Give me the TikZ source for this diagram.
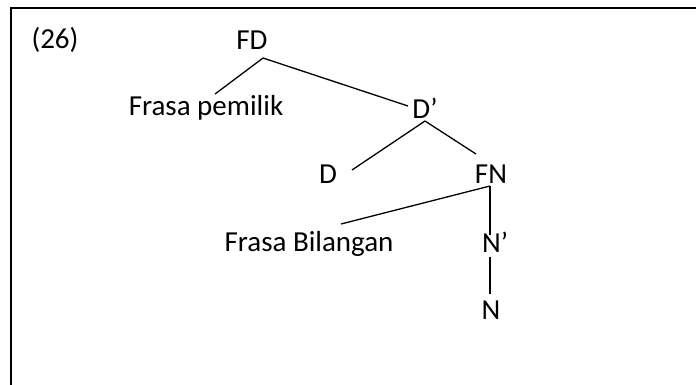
\documentclass[tikz,border=0pt]{standalone}
\usepackage{fontspec}
\setmainfont{Carlito}
\begin{document}
\begin{tikzpicture}[x=0.5pt,y=-0.5pt,
  lbl/.style={inner sep=0pt,font=\fontsize{14.5}{17}\selectfont},
  branch/.style={line width=0.65pt,black},
  frame/.style={line width=1.1pt,black}]
\useasboundingbox (0,0) rectangle (696,385);
% open frame: top and left edges only
\draw[frame] (696,8) -- (11,8) -- (11,385);
% labels
\node[lbl] (num) at (55,40) {(26)};
\node[lbl] (FD) at (252,40) {FD};
\node[lbl] (FP) at (206,108) {Frasa pemilik};
\node[lbl] (Dbar) at (425,108) {D’};
\node[lbl] (D) at (328,174) {D};
\node[lbl] (FN) at (491,174) {FN};
\node[lbl] (FB) at (309,244) {Frasa Bilangan};
\node[lbl] (Nbar) at (495,242) {N’};
\node[lbl] (N) at (491,310) {N};
% attachment points of the branches
\coordinate (FD-b) at (263,58);
\coordinate (FP-t) at (215,94);
\coordinate (Dbar-t) at (408,106);
\coordinate (Dbar-b) at (425,121);
\coordinate (D-t) at (352,170);
\coordinate (FN-t) at (476,154);
\coordinate (FN-b) at (490,186);
\coordinate (FB-t) at (341,224);
\coordinate (Nbar-t) at (490,235);
\coordinate (Nbar-b) at (490,257);
\coordinate (N-t) at (490,294);
% branches
\draw[branch] (FD-b) -- (FP-t);
\draw[branch] (FD-b) -- (Dbar-t);
\draw[branch] (Dbar-b) -- (D-t);
\draw[branch] (Dbar-b) -- (FN-t);
\draw[branch] (FN-b) -- (FB-t);
\draw[branch] (FN-b) -- (Nbar-t);
\draw[branch] (Nbar-b) -- (N-t);
\end{tikzpicture}
\end{document}
